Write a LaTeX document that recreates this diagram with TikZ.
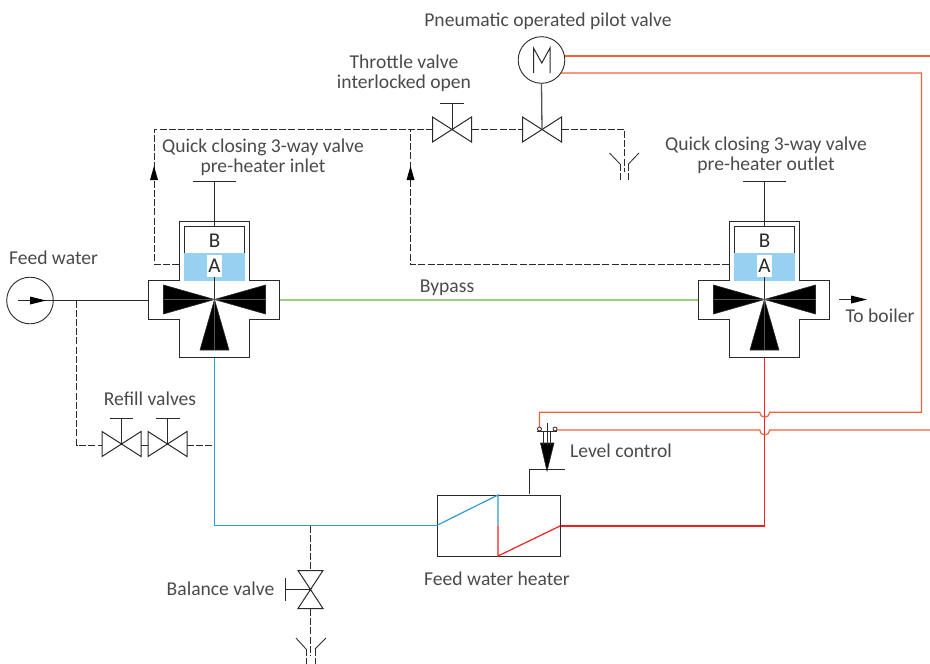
\documentclass[tikz,border=0pt]{standalone}
\usepackage{fontspec}
\setmainfont{Carlito}
\usetikzlibrary{arrows.meta,calc}
\definecolor{ink}{HTML}{2B2A29}
\definecolor{txt}{HTML}{4A4A4A}
\definecolor{cblue}{HTML}{2E9BD6}
\definecolor{cgreen}{HTML}{9AD07A}
\definecolor{cred}{HTML}{F02020}
\definecolor{corange}{HTML}{F2623A}
\definecolor{fillblue}{HTML}{96D1F2}
\tikzset{
 ln/.style={draw=ink,line width=1pt},
 dsh/.style={draw=ink,line width=1pt,dash pattern=on 7pt off 2.2pt},
 drn/.style={draw=ink,line width=.85pt,dash pattern=on 7pt off 2.2pt},
 lbl/.style={text=txt,font=\fontsize{19.6}{20}\selectfont,align=center,inner sep=0pt},
 blk/.style={fill=black,draw=ink,line width=.6pt,line join=miter},
 vlv/.style={draw=ink,line width=1pt,fill=white},
 pipe/.style={line width=1.2pt},
 widepipe/.style={line width=1.25pt}
}
\newcommand{\HValve}[1]{%
 \draw[vlv] ($(#1)+(-19.5,-12.5)$) -- ($(#1)+(19.5,12.5)$) -- ($(#1)+(19.5,-12.5)$) -- ($(#1)+(-19.5,12.5)$) -- cycle;}
\newcommand{\ThreeWay}[2]{%
 \begin{scope}[shift={(#1,0)}]
 \draw[ln] (-35,221.5) -- (35,221.5) -- (35,280.5) -- (65,280.5) -- (65,319) -- (35,319) -- (35,357.5) -- (-35,357.5) -- (-35,319) -- (-66,319) -- (-66,280.5) -- (-35,280.5) -- cycle;
 \fill[fillblue] (-30.5,253) rectangle (30.5,281);
 \draw[ln] (-30,253) -- (-30,226.5) -- (30,226.5) -- (30,253);
 \node[fill=white,minimum width=15pt,minimum height=22pt,inner sep=0pt,text=ink,font=\fontsize{21}{22}\selectfont] (#2A) at (0,266) {A};
 \node[inner sep=0pt,text=ink,font=\fontsize{21}{22}\selectfont] (#2B) at (0,241) {B};
 \draw[ln] (0,181.5) -- (0,226.5);
 \draw[ln] (-21.5,181.5) -- (21.5,181.5);
 \draw[ln] (0,277) -- (0,299.5);
 \draw[blk] (0,299.5) -- (-51,285) -- (-51,314) -- cycle;
 \draw[blk] (0,299.5) -- (51,285) -- (51,314) -- cycle;
 \draw[blk] (0,299.5) -- (-14.5,350) -- (14.5,350) -- cycle;
 \draw[ink!80,line width=.8pt] (-51,299.5) -- (51,299.5);
 \draw[ink!80,line width=.8pt] (0,299.5) -- (0,350);
 \end{scope}}
\begin{document}
\begin{tikzpicture}[x=1pt,y=-1pt]
\useasboundingbox (0,0) rectangle (930,664);
% coloured lines
\draw[cblue,pipe] (214.5,357.5) -- (214.5,525.3) -- (437,525.3);
\draw[cred,widepipe] (560,526) -- (764.7,526);
\draw[cred,pipe] (764.7,526) -- (764.7,357.5);
\draw[cgreen,widepipe] (280,300) -- (699,300);
\draw[corange,widepipe] (561,56) -- (930,56);
\draw[corange,pipe] (561,73) -- (921.5,73) -- (921.5,412.3) -- (769.7,412.3) arc[start angle=0,end angle=180,radius=5] -- (539.5,412.3) -- (539.5,428);
\draw[corange,pipe] (555,430) -- (759.7,430) arc[start angle=180,end angle=0,radius=5] -- (930,430);
% three-way valves
\ThreeWay{214.5}{L}
\ThreeWay{764.5}{R}
% dashed network
\draw[dsh] (76.5,300.5) -- (76.5,445) -- (102,445);
\draw[dsh] (187,445) -- (214,445);
\draw[ln] (141,445) -- (148,445);
\draw[dsh] (179,264) -- (154,264) -- (154,129) -- (432,129);
\draw[dsh] (729,264) -- (410.5,264) -- (410.5,129);
\draw[dsh] (472,129) -- (522,129);
\draw[dsh] (562,129) -- (624.5,129) -- (624.5,172);
\draw[dsh] (310.5,525.5) -- (310.5,570);
\draw[dsh] (310.5,609) -- (310.5,656);
% feed
\draw[ln] (18,300.5) -- (148,300.5);
\node[circle,draw=ink,line width=.9pt,minimum size=46.6pt,inner sep=0pt] (pump) at (30,300.5) {};
\fill[black] (30,296.5) -- (46,300.5) -- (30,304.5) -- cycle;
% arrows
\fill[black] (154,166) -- (158,180) -- (150,180) -- cycle;
\fill[black] (410.5,166) -- (414.5,180) -- (406.5,180) -- cycle;
\draw[ln] (839,299.5) -- (866,299.5);
\fill[black] (851,295.5) -- (867,299.5) -- (851,303.5) -- cycle;
% horizontal valves
\coordinate (v1) at (121.5,444);
\coordinate (v2) at (167.5,444);
\coordinate (v3) at (452,129.5);
\coordinate (v4) at (542,129.5);
\HValve{v1}\HValve{v2}\HValve{v3}\HValve{v4}
\draw[ln] (121.5,444) -- (121.5,418.5) (110,418.5) -- (133,418.5);
\draw[ln] (167.5,444) -- (167.5,418.5) (156,418.5) -- (180,418.5);
\draw[ln] (452,129.5) -- (452,103.5) (440,103.5) -- (464,103.5);
% motor
\node[circle,draw=ink,line width=.9pt,fill=white,minimum size=46.6pt,inner sep=0pt] (motor) at (541.5,60) {};
\draw[ln,line join=miter] (533.5,73) -- (533.5,48) -- (541.8,63) -- (550,48) -- (550,73);
\draw[ink!80,line width=1.3pt] (motor.south) -- (v4);
% balance valve
\draw[vlv] (298,570.5) -- (323,570.5) -- (298,608.5) -- (323,608.5) -- cycle;
\draw[ln] (310.5,589.5) -- (285,589.5) (285,578) -- (285,601);
% drains
\draw[ln,line width=.85pt] (609.5,153) -- (620,164) (639,153) -- (628.5,164);
\draw[drn] (620,164) -- (620,180) (628.5,164) -- (628.5,180);
\draw[ln,line width=.85pt] (296,638) -- (306,649) (326,638) -- (315,649);
\draw[drn] (306,649) -- (306,664) (315,649) -- (315,664);
% heater
\node[draw=ink,line width=1pt,minimum width=123.5pt,minimum height=61.5pt,inner sep=0pt,anchor=north west] (heater) at (436.5,494.5) {};
\draw[cblue,pipe] (437,525.3) -- (498,495) -- (498,525.3);
\draw[cred,pipe] (498,525.3) -- (498,556) -- (560,526);
% level control
\draw[ln] (529,494) -- (529,469) -- (565,469);
\draw[blk] (540.5,443) -- (554,443) -- (547,471) -- cycle;
\draw[ln] (543.5,431) -- (543.5,445) (550.5,431) -- (550.5,445) (547,423) -- (547,445);
\draw[ln,line width=1.6pt] (537,431.5) -- (557,431.5);
\draw[ink,line width=.8pt,fill=white] (539.5,429) circle (2);
\draw[ink,line width=.8pt,fill=white] (555,429) circle (2);
% labels
\node[lbl] (t1) at (548,21) {Pneumatic operated pilot valve};
\node[lbl] (t2) at (404,73) {Throttle valve\\interlocked open};
\node[lbl] (t3) at (263,157) {Quick closing 3-way valve\\pre-heater inlet};
\node[lbl] (t4) at (766,155) {Quick closing 3-way valve\\pre-heater outlet};
\node[lbl] (t5) at (53.5,258) {Feed water};
\node[lbl] (t6) at (447,288) {Bypass};
\node[lbl] (t7) at (880,316) {To boiler};
\node[lbl] (t8) at (150,399) {Refill valves};
\node[lbl] (t9) at (621,451) {Level control};
\node[lbl] (t10) at (497,579) {Feed water heater};
\node[lbl] (t11) at (220.5,589) {Balance valve};
\end{tikzpicture}
\end{document}
